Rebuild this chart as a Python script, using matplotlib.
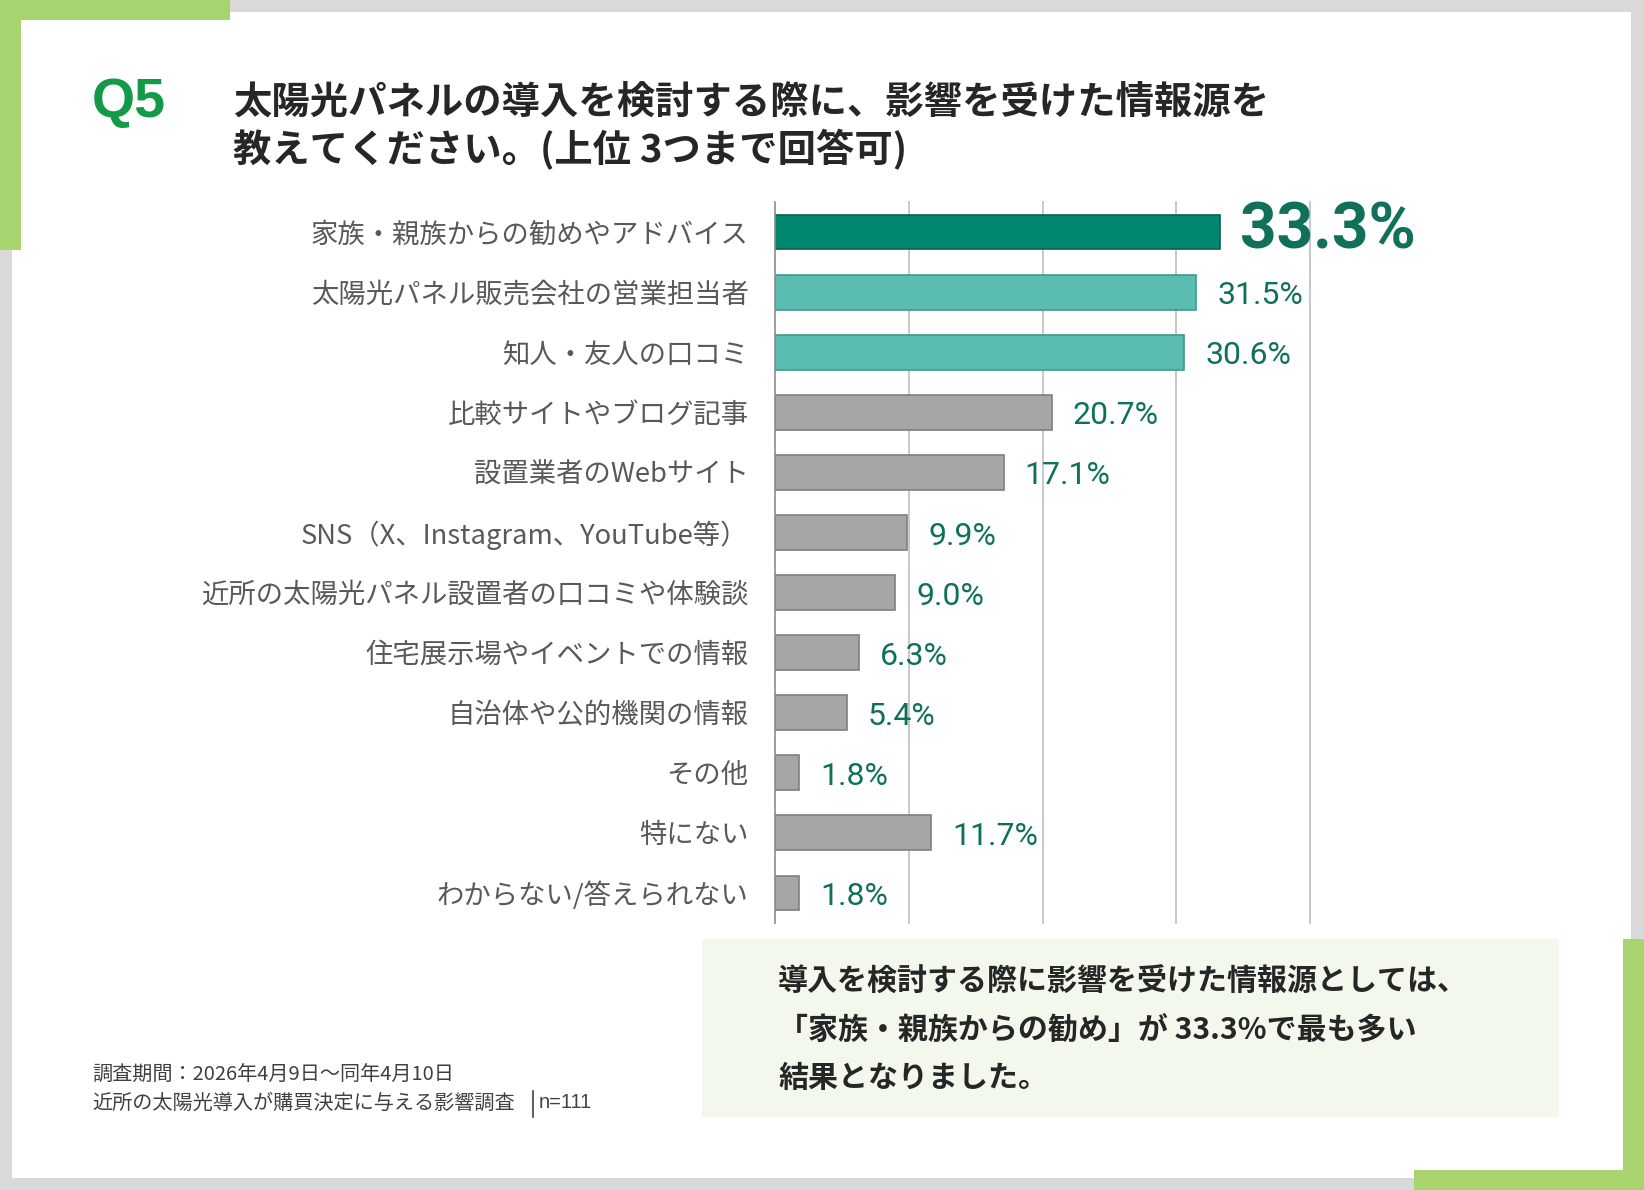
"""
Q5 bar chart: information sources that influenced solar panel decisions.
"""

import matplotlib.pyplot as plt
from matplotlib.patches import Rectangle

plt.rcParams['font.family'] = ['Noto Sans CJK JP', 'DejaVu Sans']

W, H = 1644, 1190

categories = [
    '家族・親族からの勧めやアドバイス',
    '太陽光パネル販売会社の営業担当者',
    '知人・友人の口コミ',
    '比較サイトやブログ記事',
    '設置業者のWebサイト',
    'SNS（X、Instagram、YouTube等）',
    '近所の太陽光パネル設置者の口コミや体験談',
    '住宅展示場やイベントでの情報',
    '自治体や公的機関の情報',
    'その他',
    '特にない',
    'わからない/答えられない',
]
values = [33.3, 31.5, 30.6, 20.7, 17.1, 9.9, 9.0, 6.3, 5.4, 1.8, 11.7, 1.8]
grid_ticks = [10, 20, 30, 40]

title_lines = ['太陽光パネルの導入を検討する際に、影響を受けた情報源を',
               '教えてください。(上位 3つまで回答可)']
summary_lines = ['導入を検討する際に影響を受けた情報源としては、',
                 '「家族・親族からの勧め」が 33.3%で最も多い',
                 '結果となりました。']
footer_lines = ['調査期間：2026年4月9日～同年4月10日',
                '近所の太陽光導入が購買決定に与える影響調査']
footer_n = 'n=111'

GREEN_DECOR = '#a8d46f'
GRAY_BG = '#d9d9d9'
TEXT_DARK = '#262626'
VALUE_COLOR = '#10705a'


def frame(ax):
    """Grey border, white panel and the green corner bars."""
    ax.add_patch(Rectangle((0, 0), W, H, color=GRAY_BG, lw=0))
    ax.add_patch(Rectangle((12, 12), 1631 - 12, 1178 - 12, color='white', lw=0))
    ax.add_patch(Rectangle((0, 0), 230, 20, color=GREEN_DECOR, lw=0))
    ax.add_patch(Rectangle((0, 0), 21, 250, color=GREEN_DECOR, lw=0))
    ax.add_patch(Rectangle((1623, 939), 21, H - 939, color=GREEN_DECOR, lw=0))
    ax.add_patch(Rectangle((1414, 1170), W - 1414, 20, color=GREEN_DECOR, lw=0))
    # summary box
    ax.add_patch(Rectangle((702, 939), 1559 - 702, 1117 - 939,
                           color='#f2f8ec', lw=0))


def texts(ax):
    ax.text(92, 103, 'Q5', family='Liberation Sans', fontweight='bold',
            fontsize=40, color='#139a48', va='center', ha='left')
    for y, line in zip([103, 150], title_lines):
        ax.text(233, y, line, fontsize=27.6, fontweight='bold',
                color=TEXT_DARK, va='center', ha='left')
    for y, line in zip([982, 1030, 1078], summary_lines):
        ax.text(778, y, line, fontsize=21.6, fontweight='bold',
                color=TEXT_DARK, va='center', ha='left')
    for y, line in zip([1075, 1103], footer_lines):
        ax.text(92, y, line, fontsize=14.5, color='#404040',
                va='center', ha='left')
    ax.plot([533, 533], [1091, 1117], color='#404040', lw=1.2)
    ax.text(539, 1103, footer_n, family='Liberation Sans', fontsize=14.5,
            color='#404040', va='center', ha='left')


def bars(fig):
    left, right = 775 / W, 1310 / W
    top, bottom = 1 - 202 / H, 1 - 923 / H
    ax = fig.add_axes([left, bottom, right - left, top - bottom])
    ax.patch.set_alpha(0)
    ypos = list(range(len(categories)))
    colors = ['#00876f', '#5bbdb1', '#5bbdb1'] + ['#a6a6a6'] * 9
    edges = ['#125e4d', '#3f9a8e', '#3f9a8e'] + ['#7f7f7f'] * 9
    ax.barh(ypos, values, height=0.58, color=colors, edgecolor=edges,
            linewidth=1.2, zorder=2)
    for x in grid_ticks:
        ax.axvline(x, color='#bfbfbf', lw=1.2, zorder=1, clip_on=False)
    ax.set_xlim(0, 40)
    ax.set_ylim(len(categories) - 0.5, -0.5)
    for s in ['top', 'right', 'bottom']:
        ax.spines[s].set_visible(False)
    ax.spines['left'].set_color('#8c8c8c')
    ax.spines['left'].set_linewidth(1.2)
    ax.set_xticks([])
    ax.set_yticks(ypos)
    ax.set_yticklabels(categories, fontsize=19.7, color='#595959')
    ax.tick_params(axis='y', length=0, pad=19)
    for i, v in enumerate(values):
        if i == 0:
            ax.annotate(f'{v:.1f}%', (v, i - 0.02), xytext=(14, 0),
                        textcoords='offset points', va='center', ha='left',
                        family='Roboto', fontweight='bold', fontsize=46,
                        color=VALUE_COLOR, annotation_clip=False)
        else:
            ax.annotate(f'{v:.1f}%', (v, i + 0.06), xytext=(15, 0),
                        textcoords='offset points', va='center', ha='left',
                        family='Roboto', fontsize=23, color=VALUE_COLOR,
                        annotation_clip=False)


def main():
    fig = plt.figure(figsize=(W / 100, H / 100), dpi=100)
    bg = fig.add_axes([0, 0, 1, 1])
    bg.set_xlim(0, W)
    bg.set_ylim(H, 0)
    bg.axis('off')
    frame(bg)
    texts(bg)
    bars(fig)
    fig.savefig('out.png', dpi=100)
    plt.close('all')


if __name__ == '__main__':
    main()
